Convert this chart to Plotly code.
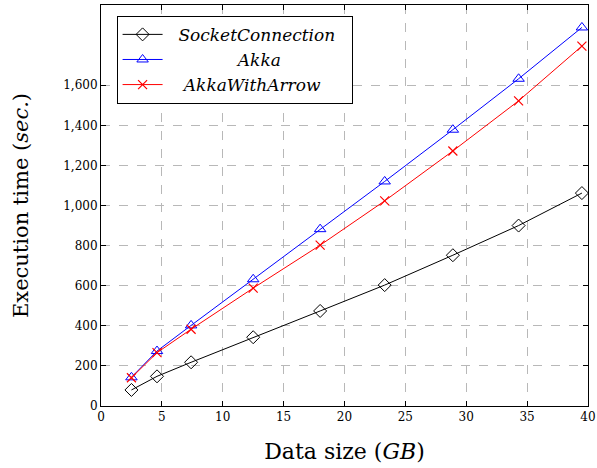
import plotly.graph_objects as go

data_size = [2.5, 4.6, 7.4, 12.5, 18, 23.3, 28.9, 34.3, 39.5]
socket = [80, 148, 218, 343, 474, 603, 752, 900, 1062]
akka = [143, 274, 402, 632, 882, 1120, 1378, 1632, 1888]
akka_arrow = [141, 266, 383, 588, 802, 1023, 1272, 1522, 1795]

y_ticks = [0, 200, 400, 600, 800, 1000, 1200, 1400, 1600]
x_ticks = [0, 5, 10, 15, 20, 25, 30, 35, 40]

font = "DejaVu Serif"
nb = "\u00a0"

fig = go.Figure()
fig.add_trace(go.Scatter(x=data_size, y=socket, mode="lines+markers",
                         name=nb * 2 + "<i>SocketConnection</i>" + nb * 2,
                         line=dict(color="black", width=1),
                         marker=dict(symbol="diamond-open", size=10, color="black", line=dict(width=1))))
fig.add_trace(go.Scatter(x=data_size, y=akka, mode="lines+markers",
                         name=nb * 13 + "<i>Akka</i>",
                         line=dict(color="blue", width=1),
                         marker=dict(symbol="triangle-up-open", size=10, color="blue", line=dict(width=1))))
fig.add_trace(go.Scatter(x=data_size, y=akka_arrow, mode="lines+markers",
                         name=nb * 3 + "<i>AkkaWithArrow</i>",
                         line=dict(color="red", width=1),
                         marker=dict(symbol="x-thin-open", size=9, color="red", line=dict(width=1.2, color="red"))))

axis_common = dict(showline=True, linecolor="black", linewidth=1, mirror="ticks",
                   ticks="inside", ticklen=5, tickcolor="black",
                   showgrid=True, gridcolor="#b8b8b8", griddash="dash", gridwidth=1,
                   zeroline=False, automargin=False,
                   tickfont=dict(family=font, size=12, color="black"))

fig.update_xaxes(range=[0, 40], tickvals=x_ticks,
                 title=dict(text="Data size (<i>GB</i>)", font=dict(family=font, size=22, color="black"), standoff=20),
                 **axis_common)
fig.update_yaxes(range=[0, 2000], tickvals=y_ticks, tickformat=",",
                 title=dict(text="Execution time (<i>sec.</i>)", font=dict(family=font, size=21, color="black"), standoff=28),
                 **axis_common)

fig.update_layout(
    width=597, height=468,
    margin=dict(l=101, r=9, t=5, b=62),
    plot_bgcolor="white", paper_bgcolor="white",
    font=dict(family=font, color="black"),
    legend=dict(x=0.032, y=0.973, xanchor="left", yanchor="top",
                bordercolor="black", borderwidth=1, bgcolor="white",
                font=dict(family=font, size=17, color="black"),
                itemwidth=40, tracegroupgap=2),
    showlegend=True,
)

fig.write_html("out.html", post_script="document.body.style.margin='0';",
               config={"displayModeBar": False})
